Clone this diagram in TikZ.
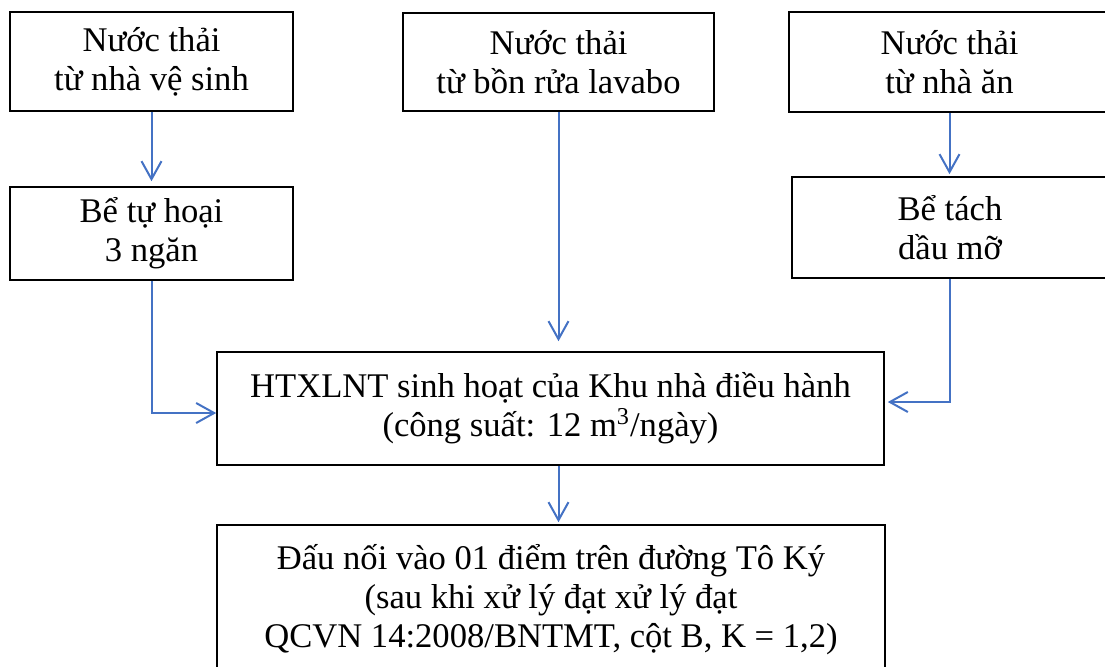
\documentclass[tikz,border=0pt]{standalone}
\usepackage{fontspec}
\setmainfont{Liberation Serif}
\usepackage{tikz}
\usetikzlibrary{arrows.meta,positioning}
\usepackage{xcolor}
\definecolor{flowblue}{RGB}{68,114,196}

\tikzset{
  box/.style={draw, line width=0.8pt, align=center, inner sep=0pt,
    font=\fontsize{17.3}{19.5}\selectfont},
  flow/.style={flowblue, line width=1pt,
    -{Straight Barb[length=9pt,width=10pt]}}
}

\begin{document}
\begin{tikzpicture}[x=0.5pt,y=-0.5pt]
    \useasboundingbox (0,0) rectangle (1105,666);
    % sources
    \node[box, minimum width=141.5pt, minimum height=49.5pt] (nuocvs) at (151.5,61.5) {Nước thải\\từ nhà vệ sinh};
    \node[box, minimum width=155.5pt, minimum height=49pt] (nuoclavabo) at (558.5,62) {Nước thải\\từ bồn rửa lavabo};
    \node[box, minimum width=160.5pt, minimum height=50pt] (nuocan) at (949.5,62) {Nước thải\\từ nhà ăn};
    % pre-treatment
    \node[box, minimum width=141.5pt, minimum height=46.5pt] (tuhoai) at (151.5,233.5) {Bể tự hoại\\3 ngăn};
    \node[box, minimum width=158pt, minimum height=50.5pt] (tachdau) at (950,227.5) {Bể tách\\dầu mỡ};
    % treatment and outlet
    \node[box, minimum width=333.5pt, minimum height=56.5pt] (xlnt) at (550.5,408.5) {HTXLNT sinh hoạt của Khu nhà điều hành\\(công suất: 12 m\textsuperscript{3}/ngày)};
    \node[box, minimum width=334pt, minimum height=75pt] (daunoi) at (551,600) {Đấu nối vào 01 điểm trên đường Tô Ký\\(sau khi xử lý đạt xử lý đạt\\QCVN 14:2008/BNTMT, cột B, K = 1,2)};
    % flows
    \draw[flow, shorten >=2.5pt] (nuocvs.south) -- (tuhoai.north);
    \draw[flow, shorten >=5pt] (nuoclavabo.south) -- (nuoclavabo.south |- xlnt.north);
    \draw[flow, shorten >=1pt] (nuocan.south) -- (nuocan.south |- tachdau.north);
    \draw[flow] (tuhoai.south) |- ([yshift=-2.25pt]xlnt.west);
    \draw[flow, shorten >=1.5pt] (tachdau.south) |- ([yshift=3.25pt]xlnt.east);
    \draw[flow, shorten >=1pt] (xlnt.south -| nuoclavabo.south) -- (daunoi.north -| nuoclavabo.south);
\end{tikzpicture}
\end{document}
